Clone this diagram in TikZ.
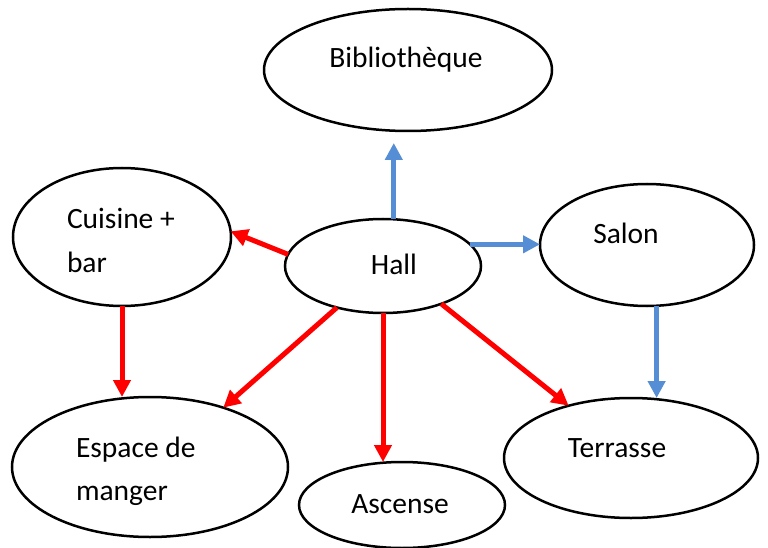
\documentclass[tikz,border=0pt]{standalone}
\usepackage{fontspec}
\setmainfont{Carlito}
\usetikzlibrary{arrows.meta,shapes.geometric}
\definecolor{arrred}{RGB}{255,0,0}
\definecolor{arrblue}{RGB}{85,142,213}
\begin{document}
\begin{tikzpicture}[x=1pt,y=-1pt,
  room/.style={ellipse,draw=black,line width=2.5pt,inner sep=0pt,outer sep=0pt},
  lbl/.style={font=\fontsize{29.5}{35}\selectfont,inner sep=0pt,outer sep=0pt},
  redarrow/.style={draw=arrred,line width=5pt,-{Triangle[length=17pt,width=17pt]}},
  bluearrow/.style={draw=arrblue,line width=5pt,-{Triangle[length=17pt,width=17pt]}}]
\useasboundingbox (0,0) rectangle (768,548);
\fill[white] (0,0) rectangle (768,548);
% rooms
\node[room,minimum width=288pt,minimum height=122pt] (bib) at (408,70) {};
\node[room,minimum width=196pt,minimum height=94pt] (hall) at (383,266) {};
\node[room,minimum width=218pt,minimum height=138pt] (cuis) at (122,237) {};
\node[room,minimum width=214pt,minimum height=122pt] (salon) at (647,245) {};
\node[room,minimum width=276pt,minimum height=140pt] (esp) at (150,467) {};
\node[room,minimum width=206pt,minimum height=86pt] (asc) at (402,505) {};
\node[room,minimum width=254pt,minimum height=120pt] (terr) at (631,458) {};
% labels
\node[lbl,anchor=base] (bibt) at (406,68) {Bibliothèque};
\node[lbl,anchor=base] (hallt) at (394,274) {Hall};
\node[lbl,anchor=base west] (cuist1) at (67,229) {Cuisine +};
\node[lbl,anchor=base west] (cuist2) at (67,272) {bar};
\node[lbl,anchor=base] (salont) at (626,243) {Salon};
\node[lbl,anchor=base west] (espt1) at (76,457) {Espace de};
\node[lbl,anchor=base west] (espt2) at (76,500) {manger};
\node[lbl,anchor=base] (terrt) at (617,457) {Terrasse};
\node[lbl,anchor=base] (asct) at (400,513) {Ascense};
% connectors
\draw[bluearrow,shorten >=12pt] (hall.77) -- (hall.77 |- bib.south);
\draw[bluearrow] (hall.14) -- (hall.14 -| salon.west);
\draw[bluearrow] (salon.-81) -- (salon.-81 |- terr.north);
\draw[redarrow] (hall.173) -- (cuis.3);
\draw[redarrow] (cuis.south) -- (cuis.south |- esp.north);
\draw[redarrow] (hall.222) -- (esp.39);
\draw[redarrow] (hall.south) -- (hall.south |- asc.north);
\draw[redarrow] (hall.-33) -- (terr.140);
\end{tikzpicture}
\end{document}
